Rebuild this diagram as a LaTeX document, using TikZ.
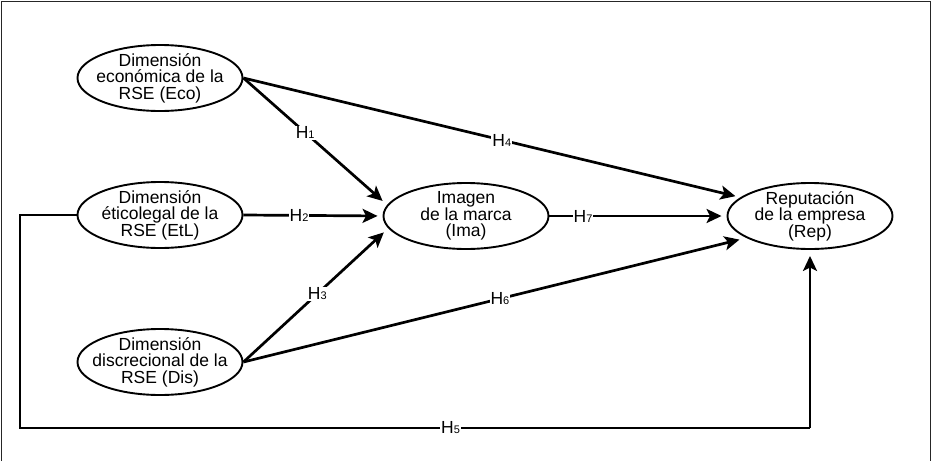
\documentclass[tikz,border=0pt]{standalone}
\usepackage{fontspec}
\setmainfont{Liberation Sans}
\usetikzlibrary{shapes.geometric,arrows.meta}
\begin{document}
\begin{tikzpicture}[x=1pt,y=-1pt,
  latent/.style={ellipse,draw,line width=1.9pt,minimum width=165pt,minimum height=66pt,inner xsep=-30pt,inner ysep=-10pt,align=center,font=\fontsize{17.5}{16.5}\selectfont},
  arr/.style={line width=2.7pt,-{Stealth[length=15pt,width=14pt,inset=3.5pt]}},
  lbl/.style={fill=white,inner sep=1pt,font=\fontsize{17.5}{17.5}\selectfont},
  frame/.style={line width=1.5pt,draw=black!85}]
\useasboundingbox (0,0) rectangle (932,461);
\draw[frame] (1.5,461) -- (1.5,1.5) -- (930.5,1.5) -- (930.5,461);
\node[latent] (eco) at (160,78) {Dimensión\\económica de la\\RSE (Eco)};
\node[latent] (etl) at (160,215) {Dimensión\\éticolegal de la\\RSE (EtL)};
\node[latent] (dis) at (160,362) {Dimensión\\discrecional de la\\RSE (Dis)};
\node[latent] (ima) at (466,216) {Imagen\\de la marca\\(Ima)};
\node[latent] (rep) at (810,216) {Reputación\\de la empresa\\(Rep)};
\newcommand{\hlab}[1]{H{\fontsize{11}{11}\selectfont #1}}
\draw[arr,shorten >=6pt] (eco.east) -- node[lbl,pos=0.43]{\hlab{1}} (ima.172);
\draw[arr,shorten >=5pt] (etl.east) -- node[lbl,pos=0.4]{\hlab{2}} (ima.west);
\draw[arr,shorten >=6pt] (dis.east) -- node[lbl,pos=0.51]{\hlab{3}} (ima.189);
\draw[arr,shorten >=5pt] (eco.east) -- node[lbl,pos=0.52]{\hlab{4}} (rep.165);
\draw[arr,shorten >=5pt] (ima.east) -- node[lbl,pos=0.19]{\hlab{7}} (rep.west);
\draw[arr,shorten >=7pt] (dis.east) -- node[lbl,pos=0.51]{\hlab{6}} (rep.199);
\coordinate (h5a) at (20,428);
\coordinate (h5b) at (rep.south |- h5a);
\draw[line width=2.7pt] (etl.west) -| (h5a) -- node[lbl,pos=0.545]{\hlab{5}} (h5b);
\draw[arr,shorten >=6pt] (h5b) -- (rep.south);
\end{tikzpicture}
\end{document}
